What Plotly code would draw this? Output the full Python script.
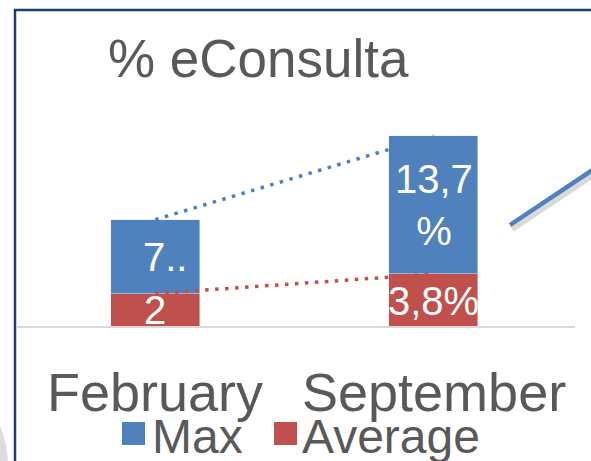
import plotly.graph_objects as go

W, H = 591, 461

categories = ["February", "September"]
max_values = [7.7, 13.7]
avg_values = [2.4, 3.8]
max_labels = ["7..", "13,7<br>%"]
avg_labels = ["2", "3,8%"]
title_text = "% eConsulta"
legend_names = ["Max", "Average"]

BLUE = "#4F81BD"
RED = "#C0504D"
GREY_TXT = "#595959"
FONT = "Liberation Sans, Arial, sans-serif"


def px(x):
    return x / W


def py(y):
    return 1 - y / H


max_segment = [m - a for m, a in zip(max_values, avg_values)]

fig = go.Figure()
fig.add_trace(go.Bar(x=categories, y=avg_values, marker_color=RED, width=0.32,
                     showlegend=False, hoverinfo="skip"))
fig.add_trace(go.Bar(x=categories, y=max_segment, marker_color=BLUE, width=0.32,
                     showlegend=False, hoverinfo="skip"))
# series lines
fig.add_trace(go.Scatter(x=categories, y=max_values, mode="lines",
                         line=dict(color=BLUE, width=3.5, dash="3.5px,6.5px"),
                         showlegend=False, hoverinfo="skip"))
fig.add_trace(go.Scatter(x=categories, y=avg_values, mode="lines",
                         line=dict(color=RED, width=3.5, dash="3.5px,6.5px"),
                         showlegend=False, hoverinfo="skip"))

annotations = []
for i, (c, m, a, ml, al) in enumerate(zip(categories, max_values, avg_values, max_labels, avg_labels)):
    annotations.append(dict(x=c, y=(m + a) / 2, xref="x", yref="y", text=ml,
                            showarrow=False, font=dict(family=FONT, size=40, color="white"),
                            yanchor="middle", xanchor="center",
                            xshift=10 if ml.endswith("..") else 0))
    annotations.append(dict(x=c, y=a / 2, xref="x", yref="y", text=al,
                            showarrow=False, font=dict(family=FONT, size=40, color="white"),
                            yanchor="middle", xanchor="center"))

# title
annotations.append(dict(x=px(106), y=py(59), xref="paper", yref="paper", text=title_text,
                        showarrow=False, xanchor="left", yanchor="middle",
                        font=dict(family=FONT, size=53, color=GREY_TXT)))
# category labels
for c in categories:
    annotations.append(dict(x=c, y=py(392), xref="x", yref="paper", text=c,
                            showarrow=False, xanchor="center", yanchor="middle",
                            font=dict(family=FONT, size=54, color=GREY_TXT)))
# legend
annotations.append(dict(x=px(150), y=py(436), xref="paper", yref="paper", text=legend_names[0],
                        showarrow=False, xanchor="left", yanchor="middle",
                        font=dict(family=FONT, size=48, color=GREY_TXT)))
annotations.append(dict(x=px(300), y=py(436), xref="paper", yref="paper", text=legend_names[1],
                        showarrow=False, xanchor="left", yanchor="middle",
                        font=dict(family=FONT, size=48, color=GREY_TXT)))

shapes = [
    # grey circle at bottom-left
    dict(type="circle", xref="paper", yref="paper", x0=px(-208), x1=px(8), y0=py(574), y1=py(358),
         fillcolor="#DDDDDD", line=dict(width=0), layer="below"),
    # frame
    dict(type="rect", xref="paper", yref="paper", x0=px(15), x1=px(620), y0=py(490), y1=py(10),
         line=dict(color="#1F3A7A", width=2.5), fillcolor="rgba(0,0,0,0)"),
    # baseline
    dict(type="line", xref="paper", yref="paper", x0=px(17), x1=px(575), y0=py(327), y1=py(327),
         line=dict(color="#D9D9D9", width=2)),
    # arrow shadow + arrow
    dict(type="line", xref="paper", yref="paper", x0=px(512), x1=px(605), y0=py(229), y1=py(167),
         line=dict(color="rgba(0,0,0,0.15)", width=6)),
    dict(type="line", xref="paper", yref="paper", x0=px(510), x1=px(603), y0=py(225), y1=py(163),
         line=dict(color=BLUE, width=4.5)),
    # legend swatches
    dict(type="rect", xref="paper", yref="paper", x0=px(122), x1=px(145), y0=py(445), y1=py(422),
         fillcolor=BLUE, line=dict(width=0)),
    dict(type="rect", xref="paper", yref="paper", x0=px(274), x1=px(297), y0=py(445), y1=py(422),
         fillcolor=RED, line=dict(width=0)),
]

fig.update_layout(
    width=W, height=H, margin=dict(l=0, r=0, t=0, b=0),
    paper_bgcolor="white", plot_bgcolor="rgba(0,0,0,0)",
    barmode="stack", bargap=0,
    xaxis=dict(domain=[px(16), px(573)], range=[-0.5, 1.5], showticklabels=False,
               showgrid=False, zeroline=False, showline=False, ticks=""),
    yaxis=dict(domain=[py(327), py(327 - 15 * 13.94)], range=[0, 15], showticklabels=False,
               showgrid=False, zeroline=False, showline=False, ticks=""),
    annotations=annotations, shapes=shapes,
)

fig.write_html("out.html")
